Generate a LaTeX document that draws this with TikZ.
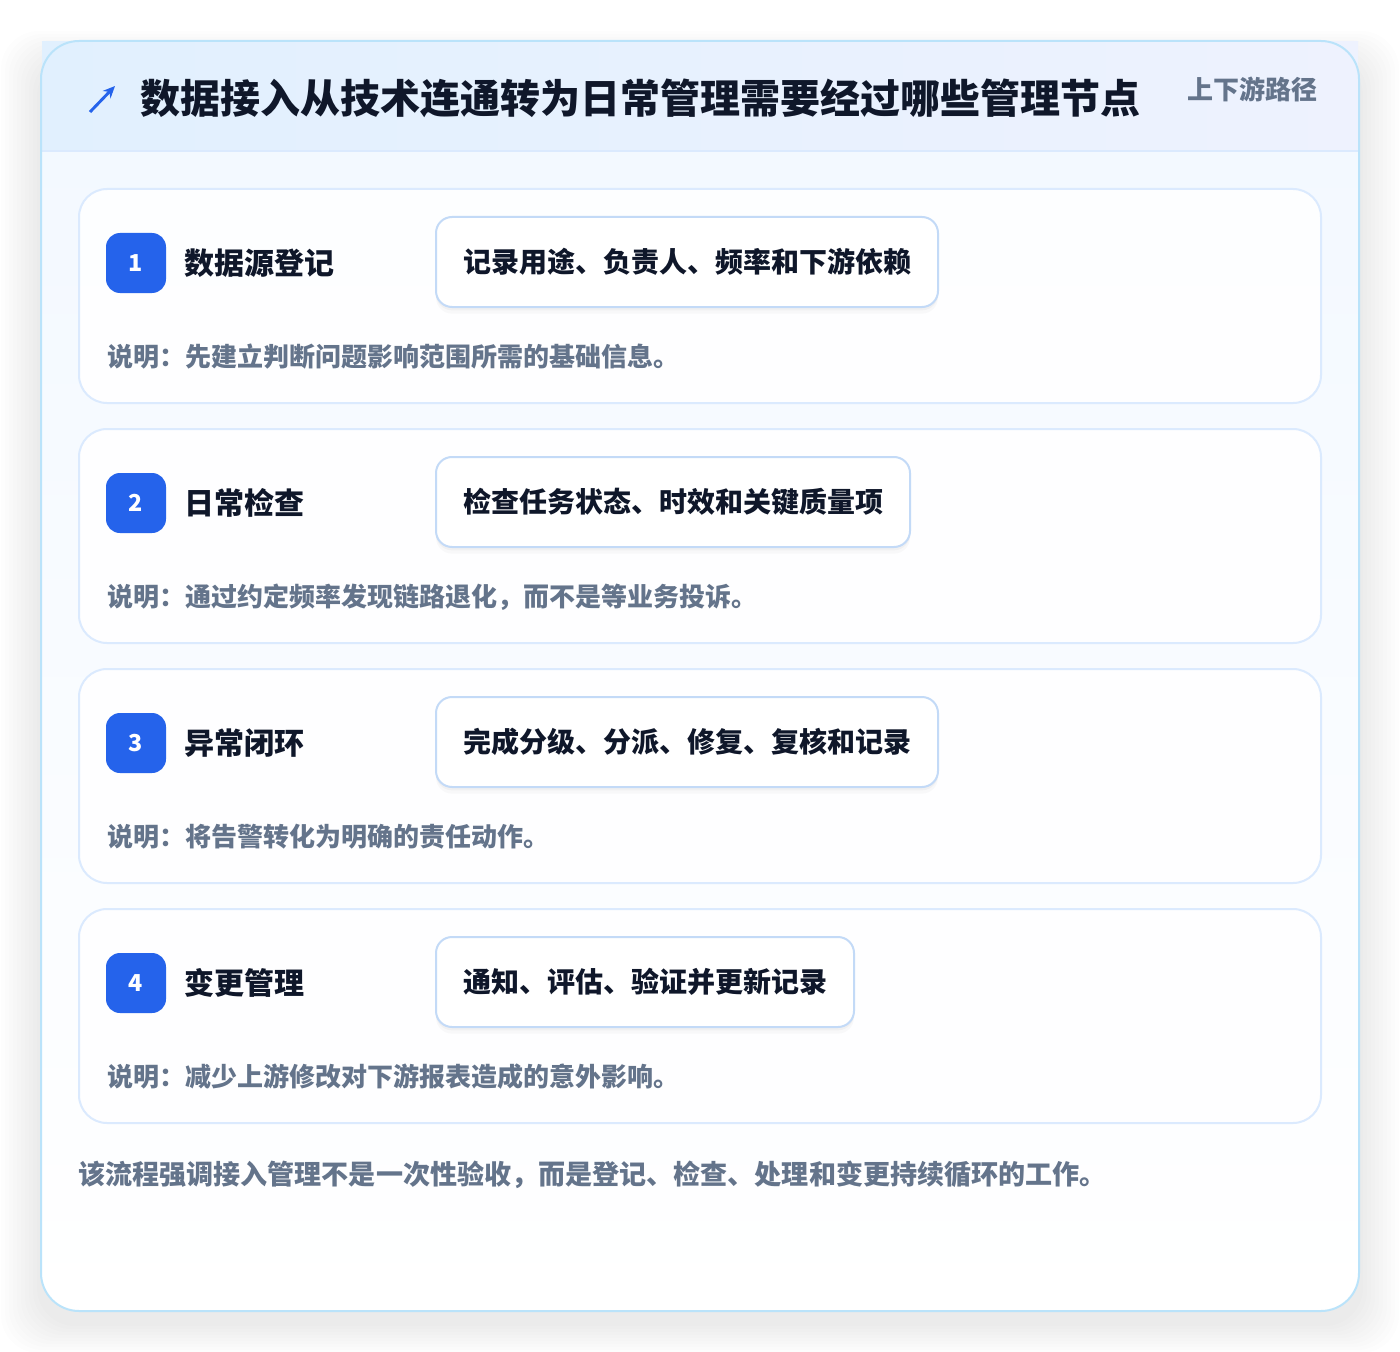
\documentclass[tikz,border=0pt]{standalone}
\usepackage{fontspec}
\setmainfont{Noto Sans CJK SC}
\usepackage{tikz}
\usetikzlibrary{positioning,arrows.meta,shadows}

\definecolor{titleink}{HTML}{0F172A}
\definecolor{mutedink}{HTML}{64748B}
\definecolor{badgeblue}{HTML}{2563EB}
\definecolor{cardline}{HTML}{DBEAFE}
\definecolor{pillline}{HTML}{C3DAF7}
\definecolor{outerline}{HTML}{BAE3FA}
\definecolor{headleft}{HTML}{E1F0FE}
\definecolor{headright}{HTML}{EEF2FE}
\definecolor{bodytop}{HTML}{F2F8FF}

\def\px{0.75pt}

\tikzset{
	badge/.style={fill=badgeblue, text=white, rounded corners=10.5pt,
		minimum size=45pt, inner sep=0pt, font=\bfseries\fontsize{17.5}{18}\selectfont},
	steptitle/.style={text=titleink, inner sep=0pt, anchor=west,
		font=\bfseries\fontsize{22.5}{24}\selectfont},
	pill/.style={draw=pillline, line width=1.5pt, fill=white, rounded corners=12pt,
		minimum height=67.5pt, inner xsep=20.25pt, anchor=west, text=titleink,
		font=\bfseries\fontsize{21}{22}\selectfont,
		drop shadow={shadow xshift=0pt, shadow yshift=-5pt, opacity=0.025, fill=black},
		drop shadow={shadow xshift=0pt, shadow yshift=-2.5pt, opacity=0.03, fill=black}},
	note/.style={text=mutedink, inner sep=0pt, anchor=west,
		font=\bfseries\fontsize{19.5}{20}\selectfont},
	card/.style={draw=cardline, line width=1.5pt, fill=white, fill opacity=0.9,
		rounded corners=21pt}
}

\begin{document}
\begin{tikzpicture}[x=0.75pt,y=-0.75pt]
	
	\useasboundingbox (0,0) rectangle (1400,1352);
	\fill[white] (0,0) rectangle (1400,1352);
	
	% soft shadow of the outer card
	\foreach \k in {1,...,10}
	\fill[black, opacity=0.009, rounded corners=28.5pt]
	(41-\k*4,61-\k*3) rectangle (1359+\k*4,1323+\k*3);
	
	% outer card
	\shade[top color=bodytop, bottom color=white, rounded corners=28.5pt]
	(41,41) rectangle (1359,1311);
	\shade[left color=headleft, right color=headright] (42,42) rectangle (1358,151);
	\draw[cardline, line width=1.2pt] (42,151) -- (1358,151);
	\draw[outerline, line width=1.5pt, rounded corners=28.5pt] (41,41) rectangle (1359,1311);
	
	% header
	\coordinate (arrowtail) at (90,112);
	\coordinate (arrowtip) at (115,86);
	\draw[badgeblue, line width=2.2pt, -{Stealth[length=9pt,width=8pt]}] (arrowtail) -- (arrowtip);
	\node[text=titleink, inner sep=0pt, anchor=west, font=\bfseries\fontsize{30}{32}\selectfont]
	(title) at (140,98) {数据接入从技术连通转为日常管理需要经过哪些管理节点};
	\node[text=mutedink, inner sep=0pt, anchor=east, font=\bfseries\fontsize{19.5}{20}\selectfont]
	(tag) at (1318,89) {上下游路径};
	
	% the four steps
	\foreach \n/\ttl/\pilltext/\desc [count=\i from 0] in {
		1/数据源登记/记录用途、负责人、频率和下游依赖/说明：先建立判断问题影响范围所需的基础信息。,
		2/日常检查/检查任务状态、时效和关键质量项/说明：通过约定频率发现链路退化，而不是等业务投诉。,
		3/异常闭环/完成分级、分派、修复、复核和记录/说明：将告警转化为明确的责任动作。,
		4/变更管理/通知、评估、验证并更新记录/说明：减少上游修改对下游报表造成的意外影响。}
	{
		\pgfmathsetmacro\cy{189+240*\i}
		\draw[card] (79,\cy) rectangle ++(1242,214);
		\node[badge] (badge\n) at (136,\cy+74) {\n};
		\node[steptitle, right=13.5pt of badge\n] (step\n) {\ttl};
		\node[pill] (pill\n) at (435,\cy+73) {\pilltext};
		\node[note] (note\n) at (107,\cy+168) {\desc};
	}
	
	% closing remark
	\node[note, font=\bfseries\fontsize{20.3}{21}\selectfont] (remark) at (78,1175)
	{该流程强调接入管理不是一次性验收，而是登记、检查、处理和变更持续循环的工作。};
	
\end{tikzpicture}
\end{document}
